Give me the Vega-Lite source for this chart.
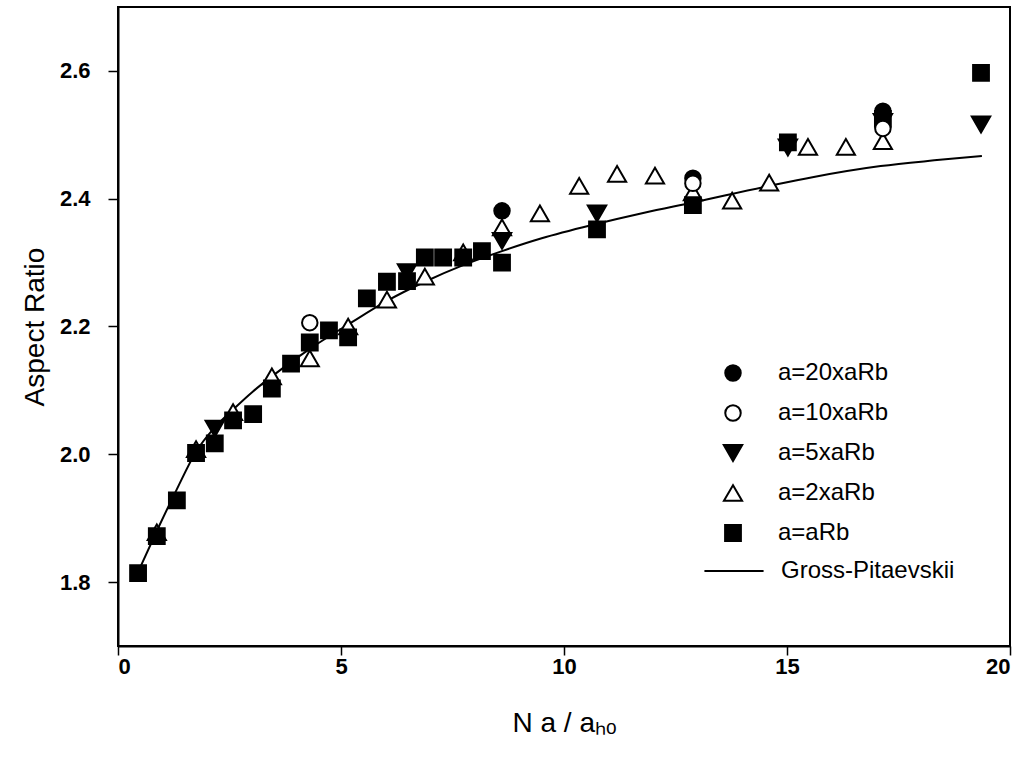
{
  "$schema": "https://vega.github.io/schema/vega-lite/v6.json",
  "width": 892,
  "height": 639,
  "autosize": {"type": "none"},
  "padding": {"left": 118, "top": 7, "right": 22, "bottom": 118},
  "background": "white",
  "config": {
    "view": {"stroke": "black", "strokeWidth": 2},
    "font": "Liberation Sans",
    "axis": {
      "grid": false,
      "domainColor": "black",
      "domainWidth": 2,
      "tickColor": "black",
      "tickWidth": 1.5,
      "labelColor": "black",
      "labelFont": "Liberation Sans",
      "labelFontWeight": "bold",
      "labelFontSize": 22,
      "titleColor": "black",
      "titleFont": "Liberation Sans",
      "titleFontWeight": "normal",
      "titleFontSize": 28
    },
    "legend": {
      "padding": 0,
      "labelFont": "Liberation Sans",
      "labelFontSize": 24,
      "labelColor": "black",
      "labelLimit": 0,
      "rowPadding": 16,
      "symbolStrokeColor": "black",
      "symbolStrokeWidth": 2
    }
  },
  "datasets": {
    "gp": [
      {"x": 0.49, "y": 1.822},
      {"x": 0.87, "y": 1.880},
      {"x": 1.31, "y": 1.944},
      {"x": 1.75, "y": 2.004},
      {"x": 2.17, "y": 2.042},
      {"x": 2.58, "y": 2.070},
      {"x": 3.02, "y": 2.098},
      {"x": 3.45, "y": 2.122},
      {"x": 4.30, "y": 2.165},
      {"x": 5.16, "y": 2.203},
      {"x": 6.03, "y": 2.240},
      {"x": 6.88, "y": 2.270},
      {"x": 7.74, "y": 2.296},
      {"x": 8.61, "y": 2.318},
      {"x": 9.50, "y": 2.338},
      {"x": 10.70, "y": 2.360},
      {"x": 11.80, "y": 2.378},
      {"x": 12.89, "y": 2.394},
      {"x": 14.60, "y": 2.420},
      {"x": 15.60, "y": 2.434},
      {"x": 17.10, "y": 2.451},
      {"x": 18.30, "y": 2.460},
      {"x": 19.37, "y": 2.467}
    ],
    "pts": [
      {"s": "a=2xaRb", "x": 0.87, "y": 1.878},
      {"s": "a=2xaRb", "x": 1.75, "y": 2.008},
      {"s": "a=2xaRb", "x": 2.58, "y": 2.066},
      {"s": "a=2xaRb", "x": 3.45, "y": 2.122},
      {"s": "a=2xaRb", "x": 4.30, "y": 2.150},
      {"s": "a=2xaRb", "x": 5.16, "y": 2.200},
      {"s": "a=2xaRb", "x": 6.03, "y": 2.242},
      {"s": "a=2xaRb", "x": 6.88, "y": 2.278},
      {"s": "a=2xaRb", "x": 7.74, "y": 2.316},
      {"s": "a=2xaRb", "x": 8.61, "y": 2.355},
      {"s": "a=2xaRb", "x": 9.46, "y": 2.377},
      {"s": "a=2xaRb", "x": 10.34, "y": 2.420},
      {"s": "a=2xaRb", "x": 11.19, "y": 2.439},
      {"s": "a=2xaRb", "x": 12.04, "y": 2.436},
      {"s": "a=2xaRb", "x": 12.89, "y": 2.410},
      {"s": "a=2xaRb", "x": 13.77, "y": 2.397},
      {"s": "a=2xaRb", "x": 14.60, "y": 2.425},
      {"s": "a=2xaRb", "x": 15.47, "y": 2.481},
      {"s": "a=2xaRb", "x": 16.32, "y": 2.481},
      {"s": "a=2xaRb", "x": 17.15, "y": 2.490},
      {"s": "a=aRb", "x": 0.45, "y": 1.814},
      {"s": "a=aRb", "x": 0.87, "y": 1.872},
      {"s": "a=aRb", "x": 1.32, "y": 1.928},
      {"s": "a=aRb", "x": 1.75, "y": 2.002},
      {"s": "a=aRb", "x": 2.17, "y": 2.017},
      {"s": "a=aRb", "x": 2.58, "y": 2.053},
      {"s": "a=aRb", "x": 3.03, "y": 2.063},
      {"s": "a=aRb", "x": 3.45, "y": 2.103},
      {"s": "a=aRb", "x": 3.88, "y": 2.142},
      {"s": "a=aRb", "x": 4.30, "y": 2.175},
      {"s": "a=aRb", "x": 4.73, "y": 2.194},
      {"s": "a=aRb", "x": 5.16, "y": 2.183},
      {"s": "a=aRb", "x": 5.58, "y": 2.244},
      {"s": "a=aRb", "x": 6.03, "y": 2.270},
      {"s": "a=aRb", "x": 6.48, "y": 2.271},
      {"s": "a=aRb", "x": 6.88, "y": 2.308},
      {"s": "a=aRb", "x": 7.29, "y": 2.308},
      {"s": "a=aRb", "x": 7.74, "y": 2.308},
      {"s": "a=aRb", "x": 8.16, "y": 2.318},
      {"s": "a=aRb", "x": 8.61, "y": 2.300},
      {"s": "a=aRb", "x": 10.74, "y": 2.352},
      {"s": "a=aRb", "x": 12.89, "y": 2.390},
      {"s": "a=aRb", "x": 15.02, "y": 2.488},
      {"s": "a=aRb", "x": 17.15, "y": 2.525},
      {"s": "a=aRb", "x": 19.35, "y": 2.597},
      {"s": "a=5xaRb", "x": 2.17, "y": 2.040},
      {"s": "a=5xaRb", "x": 6.48, "y": 2.285},
      {"s": "a=5xaRb", "x": 8.61, "y": 2.334},
      {"s": "a=5xaRb", "x": 10.74, "y": 2.377},
      {"s": "a=5xaRb", "x": 15.02, "y": 2.480},
      {"s": "a=5xaRb", "x": 17.15, "y": 2.520},
      {"s": "a=5xaRb", "x": 19.35, "y": 2.516},
      {"s": "a=20xaRb", "x": 8.61, "y": 2.381},
      {"s": "a=20xaRb", "x": 12.89, "y": 2.432},
      {"s": "a=20xaRb", "x": 17.15, "y": 2.537},
      {"s": "a=10xaRb", "x": 4.30, "y": 2.206},
      {"s": "a=10xaRb", "x": 12.89, "y": 2.424},
      {"s": "a=10xaRb", "x": 17.15, "y": 2.510}
    ]
  },
  "layer": [
    {
      "data": {"name": "gp"},
      "mark": {"type": "line", "strokeWidth": 2, "interpolate": "monotone"},
      "encoding": {
        "x": {"field": "x", "type": "quantitative"},
        "y": {"field": "y", "type": "quantitative"},
        "color": {
          "datum": "Gross-Pitaevskii", "type": "nominal",
          "scale": {"range": ["black"]},
          "legend": {"title": null, "orient": "none", "legendX": 585, "legendY": 533, "symbolType": "stroke", "symbolSize": 3500, "symbolStrokeWidth": 2, "labelOffset": 16, "labelLimit": 0}
        }
      }
    },
    {
      "data": {"name": "pts"},
      "mark": {"type": "point", "strokeWidth": 2, "opacity": 1},
      "encoding": {
        "x": {
          "field": "x", "type": "quantitative",
          "scale": {"domain": [0, 20], "nice": false, "zero": false},
          "axis": {"values": [0, 5, 10, 15, 20], "tickSize": 9, "labelPadding": 1, "title": "N a / aₕₒ", "titlePadding": 32}
        },
        "y": {
          "field": "y", "type": "quantitative",
          "scale": {"domain": [1.7, 2.7], "nice": false, "zero": false},
          "axis": {"values": [1.8, 2.0, 2.2, 2.4, 2.6], "format": ".1f", "tickSize": 10, "labelPadding": 18, "title": "Aspect Ratio", "titlePadding": 10}
        },
        "shape": {
          "field": "s", "type": "nominal",
          "scale": {
            "domain": ["a=20xaRb", "a=10xaRb", "a=5xaRb", "a=2xaRb", "a=aRb"],
            "range": ["circle", "circle", "triangle-down", "triangle-up", "square"]
          },
          "legend": {"title": null, "orient": "none", "legendX": 603, "legendY": 354, "labelOffset": 33, "labelLimit": 0}
        },
        "fill": {
          "field": "s", "type": "nominal",
          "scale": {
            "domain": ["a=20xaRb", "a=10xaRb", "a=5xaRb", "a=2xaRb", "a=aRb"],
            "range": ["black", "white", "black", "white", "black"]
          },
          "legend": {"title": null, "orient": "none", "legendX": 603, "legendY": 354, "labelOffset": 33, "labelLimit": 0}
        },
        "stroke": {
          "field": "s", "type": "nominal",
          "scale": {
            "domain": ["a=20xaRb", "a=10xaRb", "a=5xaRb", "a=2xaRb", "a=aRb"],
            "range": ["black", "black", "black", "black", "black"]
          },
          "legend": {"title": null, "orient": "none", "legendX": 603, "legendY": 354, "labelOffset": 33, "labelLimit": 0}
        },
        "size": {
          "field": "s", "type": "nominal",
          "scale": {
            "type": "ordinal",
            "domain": ["a=20xaRb", "a=10xaRb", "a=5xaRb", "a=2xaRb", "a=aRb"],
            "range": [240, 240, 340, 330, 250]
          },
          "legend": {"title": null, "orient": "none", "legendX": 603, "legendY": 354, "labelOffset": 33, "labelLimit": 0}
        }
      }
    }
  ]
}
